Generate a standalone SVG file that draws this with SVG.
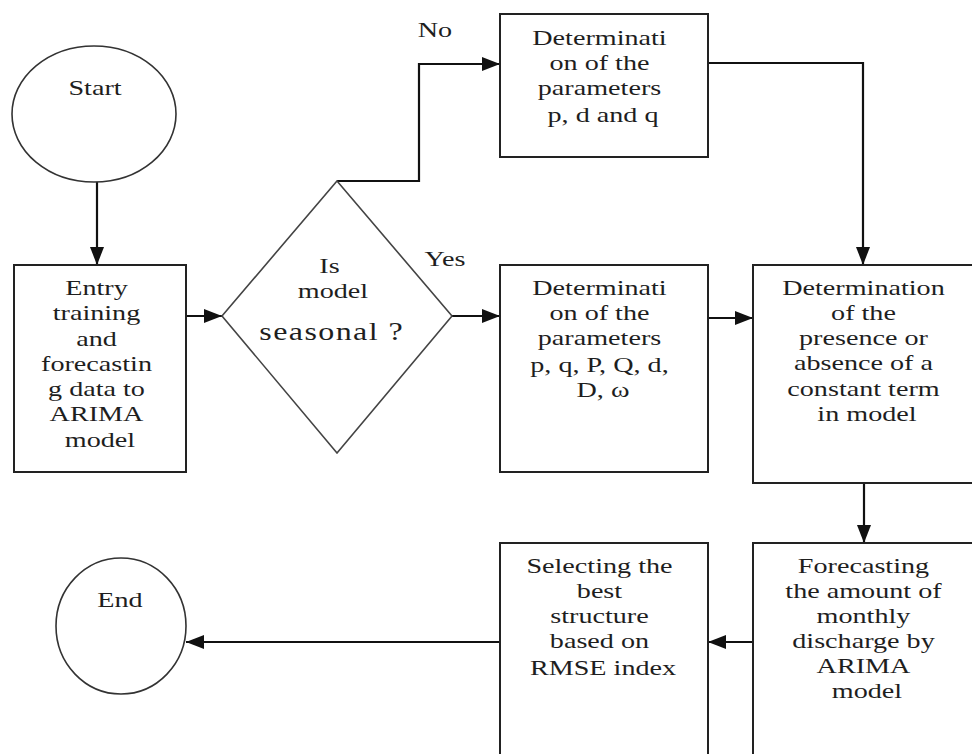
<svg xmlns="http://www.w3.org/2000/svg" width="972" height="754" viewBox="0 0 972 754">
<style>
.box{fill:#fff;stroke:#222;stroke-width:2}
.dia{fill:#fff;stroke:#444;stroke-width:1.6}
.ell{fill:#fff;stroke:#333;stroke-width:1.6}
.t{font-family:"Liberation Serif","Times New Roman",serif;font-size:22px;fill:#1e1e1e}
.con{fill:none;stroke:#111;stroke-width:2.2}
</style>
<defs>
<marker id="ah" markerUnits="userSpaceOnUse" markerWidth="18" markerHeight="14" refX="18" refY="7" orient="auto" viewBox="0 0 18 14">
<path d="M0,0 L18,7 L0,14 z" fill="#111"/>
</marker>
</defs>
<rect width="972" height="754" fill="#fff"/>

<g id="connectors">
<path class="con" d="M97,182 V265" marker-end="url(#ah)"/>
<path class="con" d="M186,316 H222" marker-end="url(#ah)"/>
<path class="con" d="M337,181 H419 V64 H500" marker-end="url(#ah)"/>
<path class="con" d="M452,316 H500" marker-end="url(#ah)"/>
<path class="con" d="M708,63 H863 V265" marker-end="url(#ah)"/>
<path class="con" d="M708,318 H753" marker-end="url(#ah)"/>
<path class="con" d="M864,483 V543" marker-end="url(#ah)"/>
<path class="con" d="M753,642 H708" marker-end="url(#ah)"/>
<path class="con" d="M500,642 H186" marker-end="url(#ah)"/>
</g>

<g id="labels">
<g transform="translate(435 0) scale(1.28 1)"><text class="t" x="0" y="37" text-anchor="middle">No</text></g>
<g transform="translate(445 0) scale(1.28 1)"><text class="t" x="0" y="266" text-anchor="middle">Yes</text></g>
</g>

<g id="start">
<ellipse class="ell" cx="94" cy="114" rx="82" ry="68"/>
<g transform="translate(95 0) scale(1.28 1)"><text class="t" x="0" y="95" text-anchor="middle">Start</text></g>
</g>

<g id="entry">
<rect class="box" x="14" y="265" width="172" height="207"/>
<g transform="translate(100 0) scale(1.28 1)"><text class="t" text-anchor="middle">
<tspan x="0" y="295">Entry</tspan>
<tspan x="0" y="320">training</tspan>
<tspan x="0" y="346">and</tspan>
<tspan x="0" y="371">forecastin</tspan>
<tspan x="0" y="396">g data to</tspan>
<tspan x="0" y="421">ARIMA</tspan>
<tspan x="0" y="447">model</tspan>
</text></g>
</g>

<g id="decision">
<polygon class="dia" points="337,181 452,316 337,453 222,316"/>
<g transform="translate(333 0) scale(1.28 1)"><text class="t" text-anchor="middle">
<tspan x="0" y="273">Is</tspan>
<tspan x="0" y="298">model</tspan>
</text></g>
<g transform="translate(331 0) scale(1.28 1)"><text class="t" x="0" y="340" text-anchor="middle" style="font-size:25px" textLength="112" lengthAdjust="spacing">seasonal ?</text></g>
</g>

<g id="params-nonseasonal">
<rect class="box" x="500" y="14" width="208" height="143"/>
<g transform="translate(603 0) scale(1.28 1)"><text class="t" text-anchor="middle">
<tspan x="0" y="45">Determinati</tspan>
<tspan x="0" y="70">on of the</tspan>
<tspan x="0" y="95">parameters</tspan>
<tspan x="0" y="122">p, d and q</tspan>
</text></g>
</g>

<g id="params-seasonal">
<rect class="box" x="500" y="265" width="208" height="207"/>
<g transform="translate(603 0) scale(1.28 1)"><text class="t" text-anchor="middle">
<tspan x="0" y="295">Determinati</tspan>
<tspan x="0" y="320">on of the</tspan>
<tspan x="0" y="345">parameters</tspan>
<tspan x="0" y="372">p, q, P, Q, d,</tspan>
<tspan x="0" y="397">D, ω</tspan>
</text></g>
</g>

<g id="constant-term">
<rect class="box" x="753" y="265" width="240" height="218"/>
<g transform="translate(867 0) scale(1.28 1)"><text class="t" text-anchor="middle">
<tspan x="0" y="295">Determination</tspan>
<tspan x="0" y="320">of the</tspan>
<tspan x="0" y="345">presence or</tspan>
<tspan x="0" y="370">absence of a</tspan>
<tspan x="0" y="396">constant term</tspan>
<tspan x="0" y="421">in model</tspan>
</text></g>
</g>

<g id="forecasting">
<rect class="box" x="753" y="543" width="240" height="230"/>
<g transform="translate(867 0) scale(1.28 1)"><text class="t" text-anchor="middle">
<tspan x="0" y="573">Forecasting</tspan>
<tspan x="0" y="598">the amount of</tspan>
<tspan x="0" y="623">monthly</tspan>
<tspan x="0" y="648">discharge by</tspan>
<tspan x="0" y="673">ARIMA</tspan>
<tspan x="0" y="698">model</tspan>
</text></g>
</g>

<g id="selecting">
<rect class="box" x="500" y="543" width="208" height="230"/>
<g transform="translate(603 0) scale(1.28 1)"><text class="t" text-anchor="middle">
<tspan x="0" y="573">Selecting the</tspan>
<tspan x="0" y="598">best</tspan>
<tspan x="0" y="623">structure</tspan>
<tspan x="0" y="648">based on</tspan>
<tspan x="0" y="675">RMSE index</tspan>
</text></g>
</g>

<g id="end">
<ellipse class="ell" cx="121" cy="626" rx="65" ry="68"/>
<g transform="translate(120 0) scale(1.28 1)"><text class="t" x="0" y="607" text-anchor="middle">End</text></g>
</g>
</svg>
